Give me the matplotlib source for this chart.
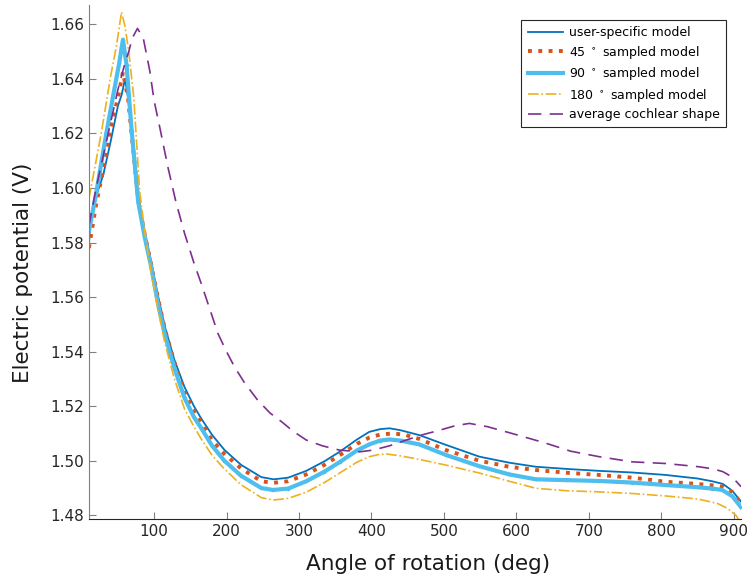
import matplotlib
matplotlib.use('Agg')
import matplotlib.pyplot as plt

# values
x_user = [10, 13, 20, 30, 40, 50, 55, 60, 64, 70, 78, 87, 96, 105, 115, 128, 142, 155, 165, 180, 197, 220, 248, 265,
          285, 310, 335, 356, 380, 397, 412, 425, 440, 466, 503, 549, 590, 627, 670, 714, 760, 806, 850, 870, 885, 898, 910]
y_user = [1.579, 1.590, 1.597, 1.605, 1.617, 1.630, 1.634, 1.640, 1.633, 1.618, 1.597, 1.584, 1.573, 1.561, 1.549,
          1.537, 1.527, 1.520, 1.5155, 1.5095, 1.504, 1.4985, 1.494, 1.4932, 1.4938, 1.4963, 1.4998, 1.5033, 1.5078,
          1.5106, 1.5116, 1.5119, 1.5112, 1.5094, 1.5058, 1.5015, 1.4993, 1.4978, 1.4970, 1.4963, 1.4957, 1.4948,
          1.4935, 1.4925, 1.4915, 1.4890, 1.4850]

x_45 = [10, 20, 30, 40, 50, 57, 64, 70, 78, 87, 96, 105, 115, 128, 142, 155, 165, 180, 197, 220, 248, 264, 285,
        310, 335, 356, 380, 397, 412, 429, 445, 466, 503, 549, 590, 627, 670, 714, 760, 806, 850, 870, 884, 898, 910]
y_45 = [1.578, 1.594, 1.607, 1.622, 1.633, 1.6425, 1.633, 1.617, 1.596, 1.583, 1.572, 1.560, 1.548, 1.536, 1.525,
        1.5185, 1.514, 1.5075, 1.5025, 1.4972, 1.4925, 1.4919, 1.4925, 1.4950, 1.4985, 1.5020, 1.5062, 1.5085, 1.5096,
        1.5100, 1.5096, 1.5080, 1.5039, 1.5000, 1.4978, 1.4966, 1.4956, 1.4948, 1.4938, 1.4923, 1.4915, 1.4910,
        1.4905, 1.4885, 1.4845]

x_90 = [10, 20, 34, 45, 52, 57, 62, 69, 78, 87, 96, 105, 115, 128, 142, 155, 165, 180, 197, 220, 248, 264, 285,
        310, 335, 356, 380, 397, 412, 425, 440, 466, 503, 549, 590, 627, 670, 714, 760, 806, 850, 870, 884, 898, 910]
y_90 = [1.584, 1.598, 1.620, 1.636, 1.646, 1.6544, 1.645, 1.621, 1.595, 1.582, 1.571, 1.558, 1.546, 1.534, 1.523,
        1.516, 1.512, 1.5055, 1.500, 1.4945, 1.4900, 1.4893, 1.4898, 1.4925, 1.4960, 1.4995, 1.5038, 1.5060, 1.5074,
        1.5078, 1.5074, 1.5060, 1.5021, 1.4980, 1.4950, 1.4932, 1.4929, 1.4926, 1.4920, 1.4911, 1.4903, 1.4898,
        1.4893, 1.4870, 1.4830]

x_180 = [10, 27, 40, 48, 55, 60, 65, 72, 80, 88, 96, 105, 115, 128, 142, 155, 165, 180, 197, 220, 248, 264, 285,
         310, 335, 356, 380, 397, 410, 420, 440, 466, 503, 549, 590, 627, 670, 714, 760, 806, 850, 877, 891, 903, 910]
y_180 = [1.596, 1.620, 1.641, 1.652, 1.6645, 1.659, 1.650, 1.633, 1.599, 1.582, 1.569, 1.556, 1.543, 1.530, 1.519,
         1.5125, 1.508, 1.502, 1.497, 1.4912, 1.4865, 1.4856, 1.4862, 1.4885, 1.4920, 1.4955, 1.4995, 1.5015, 1.5023,
         1.5025, 1.5018, 1.5005, 1.4984, 1.4955, 1.4925, 1.4899, 1.4890, 1.4886, 1.4880, 1.4871, 1.4860, 1.4844,
         1.4826, 1.4800, 1.4770]

x_avg = [10, 20, 30, 40, 50, 60, 65, 70, 77, 85, 94, 100, 108, 119, 130, 142, 155, 165, 177, 188, 200, 211, 225,
         243, 260, 276, 292, 310, 332, 356, 384, 402, 425, 448, 470, 494, 515, 535, 560, 586, 610, 640, 675, 714,
         760, 806, 852, 872, 885, 898, 910]
y_avg = [1.586, 1.600, 1.612, 1.624, 1.636, 1.646, 1.650, 1.655, 1.6585, 1.655, 1.643, 1.632, 1.622, 1.6077, 1.595,
         1.5834, 1.5725, 1.565, 1.5555, 1.5467, 1.5400, 1.5344, 1.5285, 1.5222, 1.5175, 1.5143, 1.5108, 1.5076,
         1.5055, 1.5039, 1.5033, 1.5039, 1.5055, 1.5076, 1.5095, 1.5112, 1.5128, 1.5137, 1.5125, 1.5106, 1.5088,
         1.5065, 1.5035, 1.5015, 1.4996, 1.4990, 1.4978, 1.4970, 1.4960, 1.4940, 1.4905]

labels = ['user-specific model', r'45 $^\circ$ sampled model', r'90 $^\circ$ sampled model',
          r'180 $^\circ$ sampled model', 'average cochlear shape']

fig = plt.figure(figsize=(7.47, 5.81), dpi=100)
ax = fig.add_axes([0.119, 0.106, 0.873, 0.885])

ax.plot(x_user, y_user, '-', color='#0072BD', lw=1.3, label=labels[0])
ax.plot(x_45, y_45, ':', color='#D95319', lw=2.8, label=labels[1])
ax.plot(x_90, y_90, '-', color='#4DBEEE', lw=3.0, marker='.', ms=3, label=labels[2])
ax.plot(x_180, y_180, '-.', color='#EDB120', lw=1.2, label=labels[3])
ax.plot(x_avg, y_avg, '--', color='#7E2F8E', lw=1.2, dashes=(8, 5), label=labels[4])

ax.set_xlim(10, 910)
ax.set_ylim(1.4785, 1.667)
ax.set_xticks(range(100, 1000, 100))
ax.set_yticks([1.48, 1.50, 1.52, 1.54, 1.56, 1.58, 1.60, 1.62, 1.64, 1.66])
ax.set_yticklabels(['%.2f' % v for v in ax.get_yticks()])

for s in ['top', 'right']:
    ax.spines[s].set_visible(False)
ax.spines['left'].set_color('#808080')
ax.spines['bottom'].set_color('#262626')
ax.tick_params(direction='in', length=5, color='#808080', labelsize=11, labelcolor='#262626')

ax.set_xlabel('Angle of rotation (deg)', fontsize=15.5, color='#1a1a1a')
ax.set_ylabel('Electric potential (V)', fontsize=15.5, color='#1a1a1a', labelpad=8)
ax.yaxis.set_label_coords(-0.085, 0.48)
ax.xaxis.set_label_coords(0.52, -0.068)

leg = ax.legend(loc='upper right', fontsize=9, fancybox=False, framealpha=1, edgecolor='#262626',
                borderaxespad=1.2, handlelength=2.8, borderpad=0.5, labelspacing=0.35, handletextpad=0.5)
leg.get_frame().set_linewidth(0.8)

fig.savefig('out.png', dpi=100)
